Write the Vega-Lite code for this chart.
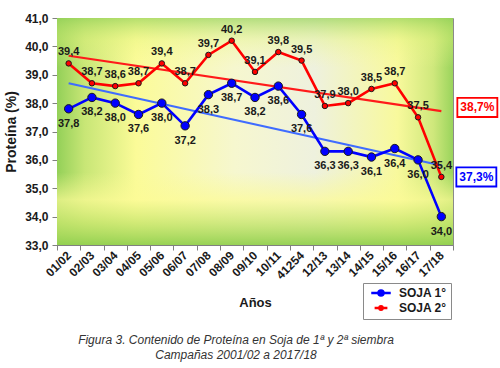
{
  "$schema": "https://vega.github.io/schema/vega-lite/v6.json",
  "width": 396,
  "height": 227,
  "autosize": "none",
  "padding": {"left": 57, "top": 18, "right": 47, "bottom": 123},
  "background": "white",
  "config": {
    "font": "Liberation Sans",
    "locale": {"number": {"decimal": ",", "thousands": ".", "grouping": [3], "currency": ["", " €"]}},
    "view": {"stroke": "#8a8a8a", "strokeWidth": 1}
  },
  "title": {
    "text": ["Figura 3. Contenido de Proteína en Soja de 1ª  y 2ª siembra", "Campañas 2001/02 a 2017/18"],
    "orient": "bottom",
    "anchor": "middle",
    "font": "Liberation Sans",
    "fontStyle": "italic",
    "fontWeight": "normal",
    "fontSize": 12,
    "color": "#333333",
    "offset": 15,
    "dx": -19,
    "lineHeight": 15
  },
  "datasets": {
    "proteina": [
      {"campana": "01/02", "serie": "SOJA 1°", "proteina": 37.8},
      {"campana": "02/03", "serie": "SOJA 1°", "proteina": 38.2},
      {"campana": "03/04", "serie": "SOJA 1°", "proteina": 38.0},
      {"campana": "04/05", "serie": "SOJA 1°", "proteina": 37.6},
      {"campana": "05/06", "serie": "SOJA 1°", "proteina": 38.0},
      {"campana": "06/07", "serie": "SOJA 1°", "proteina": 37.2},
      {"campana": "07/08", "serie": "SOJA 1°", "proteina": 38.3},
      {"campana": "08/09", "serie": "SOJA 1°", "proteina": 38.7},
      {"campana": "09/10", "serie": "SOJA 1°", "proteina": 38.2},
      {"campana": "10/11", "serie": "SOJA 1°", "proteina": 38.6},
      {"campana": "41254", "serie": "SOJA 1°", "proteina": 37.6},
      {"campana": "12/13", "serie": "SOJA 1°", "proteina": 36.3},
      {"campana": "13/14", "serie": "SOJA 1°", "proteina": 36.3},
      {"campana": "14/15", "serie": "SOJA 1°", "proteina": 36.1},
      {"campana": "15/16", "serie": "SOJA 1°", "proteina": 36.4},
      {"campana": "16/17", "serie": "SOJA 1°", "proteina": 36.0},
      {"campana": "17/18", "serie": "SOJA 1°", "proteina": 34.0},
      {"campana": "01/02", "serie": "SOJA 2°", "proteina": 39.4},
      {"campana": "02/03", "serie": "SOJA 2°", "proteina": 38.7},
      {"campana": "03/04", "serie": "SOJA 2°", "proteina": 38.6},
      {"campana": "04/05", "serie": "SOJA 2°", "proteina": 38.7},
      {"campana": "05/06", "serie": "SOJA 2°", "proteina": 39.4},
      {"campana": "06/07", "serie": "SOJA 2°", "proteina": 38.7},
      {"campana": "07/08", "serie": "SOJA 2°", "proteina": 39.7},
      {"campana": "08/09", "serie": "SOJA 2°", "proteina": 40.2},
      {"campana": "09/10", "serie": "SOJA 2°", "proteina": 39.1},
      {"campana": "10/11", "serie": "SOJA 2°", "proteina": 39.8},
      {"campana": "41254", "serie": "SOJA 2°", "proteina": 39.5},
      {"campana": "12/13", "serie": "SOJA 2°", "proteina": 37.9},
      {"campana": "13/14", "serie": "SOJA 2°", "proteina": 38.0},
      {"campana": "14/15", "serie": "SOJA 2°", "proteina": 38.5},
      {"campana": "15/16", "serie": "SOJA 2°", "proteina": 38.7},
      {"campana": "16/17", "serie": "SOJA 2°", "proteina": 37.5},
      {"campana": "17/18", "serie": "SOJA 2°", "proteina": 35.4}
    ]
  },
  "encoding": {
    "x": {
      "field": "campana",
      "type": "nominal",
      "scale": {
        "type": "band",
        "paddingInner": 0,
        "paddingOuter": 0,
        "domain": ["01/02", "02/03", "03/04", "04/05", "05/06", "06/07", "07/08", "08/09", "09/10", "10/11", "41254", "12/13", "13/14", "14/15", "15/16", "16/17", "17/18"]
      },
      "axis": {
        "title": "Años",
        "titleFontSize": 13,
        "titleFontWeight": "bold",
        "titleColor": "#1a1a1a",
        "titlePadding": 16,
        "labelAngle": -45,
        "labelAlign": "right",
        "labelBaseline": "middle",
        "labelFontSize": 12,
        "labelFontWeight": "bold",
        "labelColor": "#1a1a1a",
        "labelPadding": 3,
        "tickBand": "extent",
        "tickColor": "#808080",
        "tickSize": 5,
        "domainColor": "#808080",
        "grid": false
      }
    },
    "y": {
      "field": "proteina",
      "type": "quantitative",
      "scale": {"domain": [33, 41], "nice": false, "zero": false},
      "axis": {
        "title": "Proteína (%)",
        "titleFontSize": 14,
        "titleFontWeight": "bold",
        "titleColor": "#1a1a1a",
        "titlePadding": 6,
        "values": [33, 34, 35, 36, 37, 38, 39, 40, 41],
        "format": ".1f",
        "labelFontSize": 12,
        "labelFontWeight": "bold",
        "labelColor": "#1a1a1a",
        "labelPadding": 4,
        "tickColor": "#808080",
        "tickSize": 5,
        "domainColor": "#808080",
        "grid": false
      }
    }
  },
  "layer": [
    {
      "data": {"values": [{}]},
      "mark": {"type": "rect"},
      "encoding": {
        "x": {"value": 0}, "x2": {"value": "width"},
        "y": {"value": 0}, "y2": {"value": "height"},
        "fill": {"value": {
          "gradient": "linear", "x1": 0, "y1": 0, "x2": 1, "y2": 0,
          "stops": [
            {"offset": 0, "color": "#93d058"},
            {"offset": 0.07, "color": "#c8e676"},
            {"offset": 0.2, "color": "#fbfb98"},
            {"offset": 0.45, "color": "#f6f7cf"},
            {"offset": 0.65, "color": "#eef1de"},
            {"offset": 0.86, "color": "#f8f99c"},
            {"offset": 0.95, "color": "#cfe87c"},
            {"offset": 1, "color": "#9ad45c"}
          ]
        }}
      }
    },
    {
      "data": {"values": [{}]},
      "mark": {"type": "rect"},
      "encoding": {
        "x": {"value": 0}, "x2": {"value": "width"},
        "y": {"value": 0}, "y2": {"value": "height"},
        "fill": {"value": {
          "gradient": "linear", "x1": 0, "y1": 0, "x2": 0, "y2": 1,
          "stops": [
            {"offset": 0, "color": "rgba(150,210,90,0.7)"},
            {"offset": 0.1, "color": "rgba(225,243,125,0.35)"},
            {"offset": 0.22, "color": "rgba(250,250,150,0)"},
            {"offset": 0.68, "color": "rgba(250,250,150,0)"},
            {"offset": 0.8, "color": "rgba(252,251,150,0.7)"},
            {"offset": 0.9, "color": "rgba(200,230,110,0.8)"},
            {"offset": 1, "color": "rgba(146,208,80,0.95)"}
          ]
        }}
      }
    },
    {
      "data": {"values": [
        {"campana": "01/02", "proteina": 39.67},
        {"campana": "17/18", "proteina": 37.72}
      ]},
      "mark": {"type": "line", "color": "#ff1a1a", "strokeWidth": 2.2},
      "encoding": {}
    },
    {
      "data": {"values": [
        {"campana": "01/02", "proteina": 38.70},
        {"campana": "17/18", "proteina": 35.80}
      ]},
      "mark": {"type": "line", "color": "#3f6cff", "strokeWidth": 2.2},
      "encoding": {}
    },
    {
      "data": {"name": "proteina"},
      "mark": {"type": "line", "strokeWidth": 2.6},
      "encoding": {
        "color": {
          "field": "serie",
          "type": "nominal",
          "scale": {"domain": ["SOJA 1°", "SOJA 2°"], "range": ["#0000ff", "#ff0000"]},
          "legend": {
            "title": null,
            "orient": "none",
            "legendX": 306,
            "legendY": 265,
            "direction": "vertical",
            "strokeColor": "#8a8a8a",
            "fillColor": "white",
            "padding": 4,
            "symbolType": "M-2.33,0H2.33M-0.6,0A0.6,0.6 0 1 1 0.6,0A0.6,0.6 0 1 1 -0.6,0Z",
            "symbolSize": 144,
            "symbolStrokeWidth": 2.5,
            "symbolOffset": 8,
            "labelOffset": 12,
            "labelFontSize": 12,
            "labelFontWeight": "bold",
            "labelColor": "#1a1a1a",
            "rowPadding": 0,
            "encode": {"symbols": {"update": {"fill": {"scale": "color", "field": "value"}}}}
          }
        }
      }
    },
    {
      "data": {"name": "proteina"},
      "mark": {"type": "point", "filled": true, "opacity": 1, "stroke": "#1a1a1a", "strokeWidth": 1},
      "encoding": {
        "color": {"field": "serie", "type": "nominal"},
        "size": {
          "field": "serie",
          "type": "ordinal",
          "scale": {"domain": ["SOJA 1°", "SOJA 2°"], "range": [70, 30]},
          "legend": null
        }
      }
    },
    {
      "data": {"name": "proteina"},
      "transform": [{"filter": "datum.serie === 'SOJA 2°'"}],
      "mark": {"type": "text", "dy": -11, "fontSize": 11, "fontWeight": "bold", "color": "#1a1a1a"},
      "encoding": {
        "text": {"field": "proteina", "type": "quantitative", "format": ".1f"}
      }
    },
    {
      "data": {"name": "proteina"},
      "transform": [{"filter": "datum.serie === 'SOJA 1°'"}],
      "mark": {"type": "text", "dy": 15, "fontSize": 11, "fontWeight": "bold", "color": "#1a1a1a"},
      "encoding": {
        "text": {"field": "proteina", "type": "quantitative", "format": ".1f"}
      }
    },
    {
      "data": {"values": [{"campana": "17/18", "proteina": 37.85, "promedio": "38,7%"}]},
      "layer": [
        {
          "mark": {"type": "point", "shape": "M-1,-0.48H1V0.48H-1Z", "size": 1600, "xOffset": 36, "filled": true, "fill": "white", "stroke": "#ff0000", "strokeWidth": 1.8, "opacity": 1}
        },
        {
          "mark": {"type": "text", "dx": 36, "fontSize": 12, "fontWeight": "bold", "color": "#ff0000"},
          "encoding": {"text": {"field": "promedio"}}
        }
      ]
    },
    {
      "data": {"values": [{"campana": "17/18", "proteina": 35.40, "promedio": "37,3%"}]},
      "layer": [
        {
          "mark": {"type": "point", "shape": "M-1,-0.48H1V0.48H-1Z", "size": 1600, "xOffset": 35, "filled": true, "fill": "white", "stroke": "#0000ff", "strokeWidth": 1.8, "opacity": 1}
        },
        {
          "mark": {"type": "text", "dx": 35, "fontSize": 12, "fontWeight": "bold", "color": "#0000ff"},
          "encoding": {"text": {"field": "promedio"}}
        }
      ]
    }
  ]
}
